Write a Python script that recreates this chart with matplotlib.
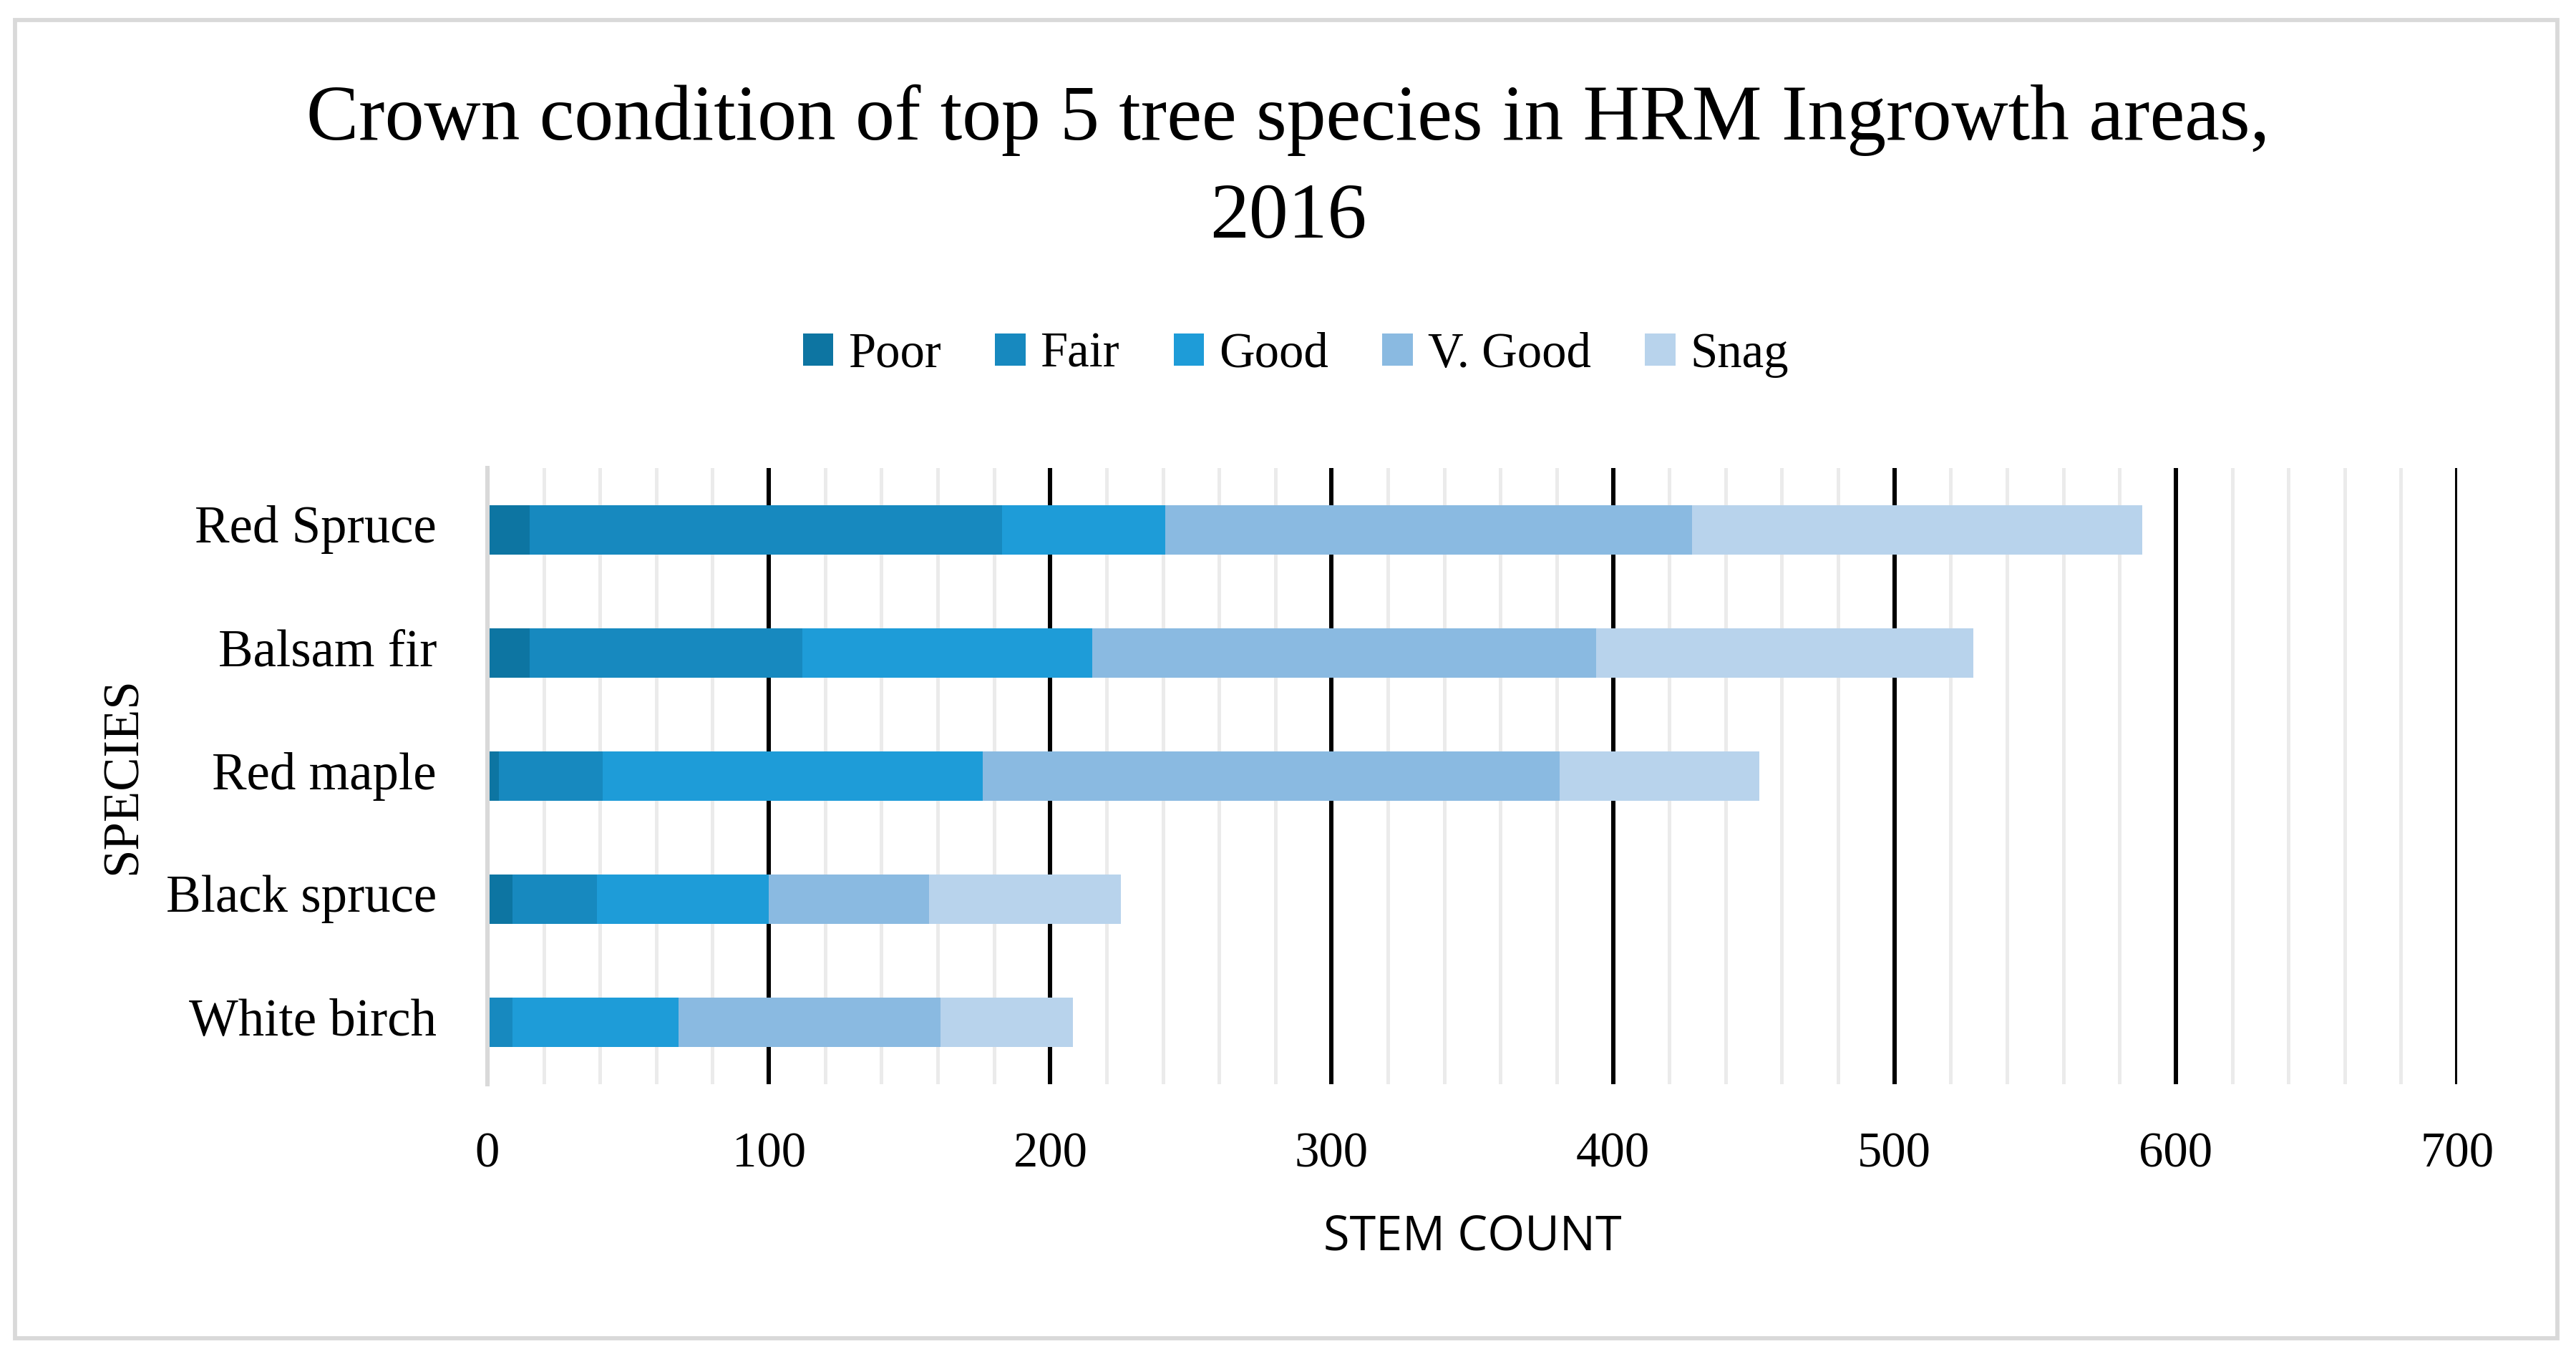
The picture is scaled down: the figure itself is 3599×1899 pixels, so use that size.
import matplotlib
matplotlib.use("Agg")
import matplotlib.pyplot as plt
from matplotlib.ticker import MultipleLocator
from matplotlib.patches import Rectangle

# Dados, de cima para baixo
especies = ["Red Spruce", "Balsam fir", "Red maple", "Black spruce", "White birch"]
condicoes = ["Poor", "Fair", "Good", "V. Good", "Snag"]
poor = [15, 15, 4, 9, 0]
fair = [168, 97, 37, 30, 9]
good = [58, 103, 135, 61, 59]
v_good = [187, 179, 205, 57, 93]
snag = [160, 134, 71, 68, 47]

cores = ["#0D75A2", "#1789BF", "#1E9CD8", "#8ABAE1", "#B8D3EC"]

serif = "Liberation Serif"

fig = plt.figure(figsize=(3599 / 300, 1899 / 300), dpi=300)
ax = fig.add_axes([0.1892, 0.2022, 0.9539 - 0.1892, 0.6556 - 0.2022])

# Moldura cinza em volta do gráfico
fig.patches.append(Rectangle((21 / 3599, 1 - 1870 / 1899), (3573 - 21) / 3599, (1870 - 28) / 1899,
                             transform=fig.transFigure, fill=False, edgecolor="#D9D9D9", linewidth=1.4))

# Barras empilhadas
y = range(len(especies))
esquerda = [0] * len(especies)
for nome, valores, cor in zip(condicoes, [poor, fair, good, v_good, snag], cores):
    ax.barh(y, valores, left=esquerda, height=0.4, color=cor, label=nome, zorder=3)
    esquerda = [a + b for a, b in zip(esquerda, valores)]

ax.set_xlim(0, 700)
ax.set_ylim(4.5, -0.5)
ax.set_yticks(list(y))
ax.set_yticklabels(especies, fontfamily=serif, fontsize=17.5, va="center")
ax.xaxis.set_major_locator(MultipleLocator(100))
ax.xaxis.set_minor_locator(MultipleLocator(20))
for lbl in ax.get_xticklabels():
    lbl.set_fontfamily(serif)
    lbl.set_fontsize(16.5)

ax.tick_params(axis="both", which="both", length=0)
ax.tick_params(axis="x", pad=16)
ax.tick_params(axis="y", pad=17)

ax.set_axisbelow(True)
ax.grid(which="major", axis="x", color="black", linewidth=1.45)
ax.grid(which="minor", axis="x", color="#EBEBEB", linewidth=1.2)
ax.grid(which="both", axis="y", visible=False)

for s in ["top", "right", "bottom"]:
    ax.spines[s].set_visible(False)
ax.spines["left"].set_color("#D9D9D9")
ax.spines["left"].set_linewidth(1.45)
ax.spines["left"].set_zorder(4)

# Rótulos dos eixos
ax.set_ylabel("SPECIES", fontfamily=serif, fontsize=17, va="center")
ax.yaxis.set_label_coords(-0.1850, 0.5)
ax.set_xlabel("STEM COUNT", fontfamily="Open Sans", fontsize=16, va="center")
ax.xaxis.set_label_coords(0.5, -0.248)

# Título em duas linhas
fig.text(0.5, 1 - 168 / 1899, "Crown condition of top 5 tree species in HRM Ingrowth areas,",
         ha="center", va="center", fontfamily=serif, fontsize=26.3)
fig.text(0.5, 1 - 305 / 1899, "2016", ha="center", va="center", fontfamily=serif, fontsize=26.3)

# Legenda
fig.legend(loc="center", bbox_to_anchor=(0.503, 1 - 496 / 1899), ncol=5, frameon=False,
           prop={"family": serif, "size": 16.5}, handlelength=0.62, handleheight=0.62,
           handletextpad=0.3, columnspacing=1.1)

fig.savefig("out.png", dpi=300)
